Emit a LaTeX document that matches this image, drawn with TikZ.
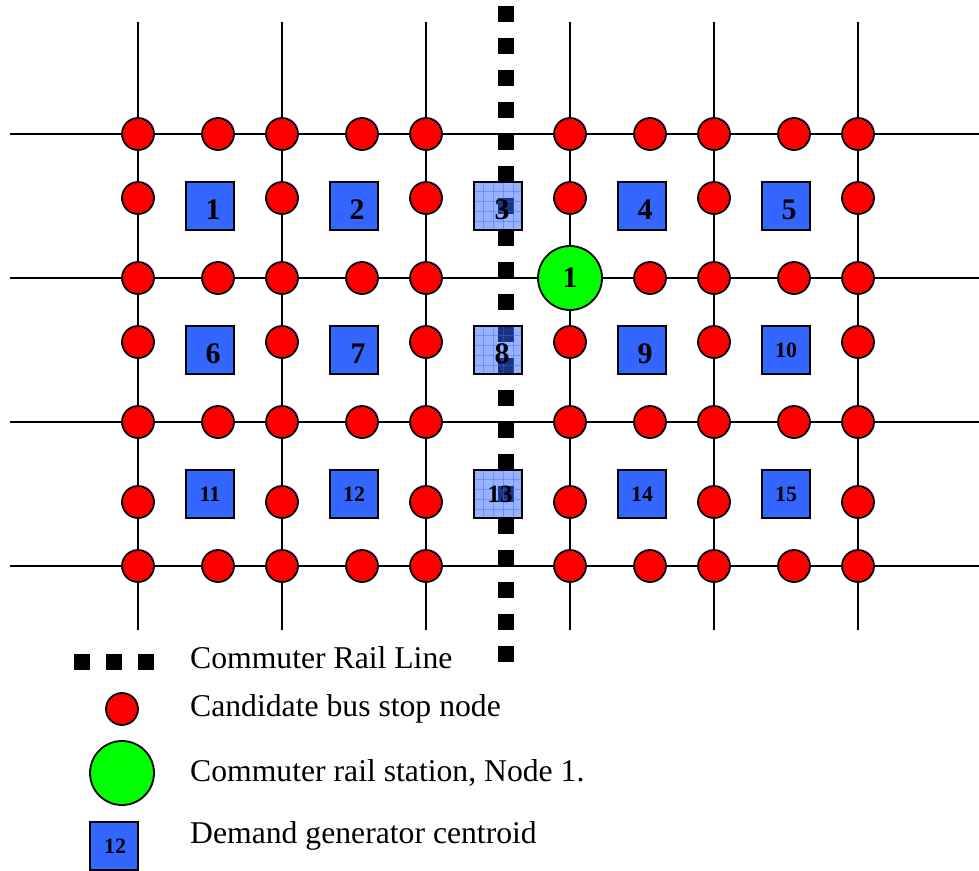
\documentclass[tikz,border=0pt]{standalone}
\usepackage{fontspec}
\setmainfont{Liberation Serif}
\definecolor{stopred}{RGB}{255,0,0}
\definecolor{stationgreen}{RGB}{0,255,0}
\definecolor{zoneblue}{RGB}{51,102,255}
\tikzset{
  road/.style={line width=1.5bp,black},
  railsq/.style={rectangle,fill=black,minimum size=16bp,inner sep=0pt,outer sep=0pt},
  busstop/.style={circle,draw=black,line width=1.8bp,fill=stopred,minimum size=32bp,inner sep=0pt},
  station/.style={circle,draw=black,line width=1.8bp,fill=stationgreen,minimum size=64bp,inner sep=0pt},
  zonebox/.style={rectangle,draw=black,line width=1.8bp,fill=zoneblue,minimum size=48bp,inner sep=0pt},
  zoneglass/.style={rectangle,draw=black,line width=1.8bp,fill=zoneblue,fill opacity=0.5,minimum size=48bp,inner sep=0pt},
  biglabel/.style={font=\fontsize{30}{30}\selectfont\bfseries,inner sep=0pt},
  midlabel/.style={font=\fontsize{25}{25}\selectfont\bfseries,inner sep=0pt},
  smalllabel/.style={font=\fontsize{22}{22}\selectfont\bfseries,inner sep=0pt},
  legendtext/.style={font=\fontsize{31.8}{32}\selectfont,anchor=base west,inner sep=0pt}
}
\begin{document}
\begin{tikzpicture}[x=1bp,y=-1bp]
\useasboundingbox (0,0) rectangle (979,871);
% road ends
\foreach \y/\n in {134/a,278/b,422/c,566/d}{
  \coordinate (hl\n) at (10,\y);
  \coordinate (hr\n) at (979,\y);
  \draw[road] (hl\n) -- (hr\n);
}
\foreach \x/\n in {138/a,282/b,426/c,570/d,714/e,858/f}{
  \coordinate (vt\n) at (\x,22);
  \coordinate (vb\n) at (\x,630);
  \draw[road] (vt\n) -- (vb\n);
}
% rail line
\foreach \k in {0,...,20}{
  \node[railsq] (rail\k) at (506,14+32*\k) {};
}
% stops on horizontal roads
\foreach \y in {134,278,422,566}{
  \foreach \x in {138,218,282,362,426,570,650,714,794,858}{
    \ifnum\y=278 \ifnum\x=570 \else
      \node[busstop] (s\x-\y) at (\x,\y) {};
    \fi\else
      \node[busstop] (s\x-\y) at (\x,\y) {};
    \fi
  }
}
% stops on vertical roads
\foreach \y in {198,342,502}{
  \foreach \x in {138,282,426,570,714,858}{
    \node[busstop] (s\x-\y) at (\x,\y) {};
  }
}
% station
\node[station,biglabel] (station) at (570,278) {1};
% demand zones
\foreach \x/\y/\n in {210/206/1,354/206/2,642/206/4,786/206/5,210/350/6,354/350/7,642/350/9,786/350/10,210/494/11,354/494/12,642/494/14,786/494/15}{
  \node[zonebox] (z\n) at (\x,\y) {};
}
\foreach \y/\n in {206/3,350/8,494/13}{
  \node[zoneglass] (z\n) at (498,\y) {};
  \foreach \d in {-15,-5,5,15}{
    \draw[zoneblue,opacity=0.45,line width=0.8bp] (498+\d,\y-24) -- (498+\d,\y+24);
    \draw[zoneblue,opacity=0.45,line width=0.8bp] (474,\y+\d) -- (522,\y+\d);
  }
  \draw[black,line width=1.8bp] (474,\y-24) rectangle (522,\y+24);
}
\foreach \x/\y/\n in {213/210/1,357/210/2,502/210/3,645/210/4,789/210/5,213/354/6,358/354/7,502/354/8,645/354/9}{
  \node[biglabel] (t\n) at (\x,\y) {\n};
}
\node[midlabel] (t13) at (500,494) {13};
\foreach \x/\y/\n in {786/350/10,210/494/11,354/494/12,642/494/14,786/494/15}{
  \node[smalllabel] (t\n) at (\x,\y) {\n};
}
% legend
\node[railsq] (lg1) at (82,662) {};
\node[railsq] (lg2) at (114,662) {};
\node[railsq] (lg3) at (146,662) {};
\node[busstop] (lgstop) at (122,709) {};
\node[station] (lgstation) at (122,773) {};
\node[zonebox] (lgzone) at (114,846) {};
\node[smalllabel] (lgzonetext) at (115,846) {12};
\node[legendtext] (lt1) at (190,668) {Commuter Rail Line};
\node[legendtext] (lt2) at (190,716) {Candidate bus stop node};
\node[legendtext] (lt3) at (190,781) {Commuter rail station, Node 1.};
\node[legendtext] (lt4) at (190,843) {Demand generator centroid};
\end{tikzpicture}
\end{document}
